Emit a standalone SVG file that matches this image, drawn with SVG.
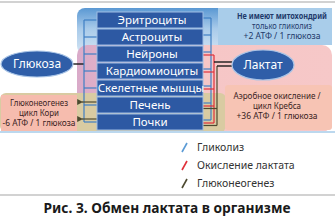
<svg xmlns="http://www.w3.org/2000/svg" width="335" height="220" viewBox="0 0 335 220">
<defs>
<linearGradient id="gBlue" x1="0" y1="0" x2="0" y2="1">
<stop offset="0" stop-color="#5a98d3"/><stop offset="0.45" stop-color="#a9cbea"/><stop offset="1" stop-color="#d3e4f3"/>
</linearGradient>
<linearGradient id="gPink" x1="0" y1="0" x2="1" y2="0">
<stop offset="0" stop-color="#d9aac9"/><stop offset="0.2" stop-color="#e8b8c6"/><stop offset="0.5" stop-color="#f6c6c6"/><stop offset="1" stop-color="#f6c8c8"/>
</linearGradient>
<marker id="arrL" markerWidth="5" markerHeight="5" refX="1" refY="2.5" orient="auto">
<path d="M5,0 L0,2.5 L5,5 z" fill="#4d4a30"/>
</marker>
<style>
.cell{fill:#2d59a3;stroke:#9fbde3;stroke-width:1}
.ctext{font-family:"Noto Sans","DejaVu Sans",sans-serif;font-size:11.5px;fill:#ffffff;text-anchor:middle}
.oval{fill:#2f5ea8;stroke:#a7c3e6;stroke-width:1.2}
.otext{font-family:"Noto Sans","DejaVu Sans",sans-serif;font-size:12px;fill:#ffffff;text-anchor:middle}
.note{font-family:"Noto Sans","DejaVu Sans",sans-serif;font-size:8px;text-anchor:middle;lengthAdjust:spacingAndGlyphs}
.leg{font-family:"Noto Sans","DejaVu Sans",sans-serif;font-size:10.5px;fill:#333333}
.bl{stroke:#3f7fc4;stroke-width:1.2;fill:none}
.rd{stroke:#e0303a;stroke-width:1.2;fill:none}
.dk{stroke:#4d4a30;stroke-width:1.2;fill:none}
.bk{stroke:#1a1a1a;stroke-width:1.4;fill:none}
</style>
</defs>
<rect x="0" y="1" width="335" height="2" fill="#d2d2d2"/>
<g id="panels">
<rect x="77" y="8" width="152" height="46" rx="8" fill="url(#gBlue)"/>
<rect x="77" y="45" width="255" height="87" rx="10" fill="url(#gPink)"/>
<rect x="0" y="93" width="226" height="39" rx="6" fill="#d9cba2"/>
<rect x="0" y="131" width="335" height="2" fill="#bcd8ee"/>
</g>
<g id="note-top">
<rect x="218" y="8" width="114" height="37" fill="#a9cdea"/>
<text class="note" x="282" y="19" fill="#1f3a6a" font-weight="bold" textLength="90" lengthAdjust="spacingAndGlyphs">Не имеют митохондрий</text>
<text class="note" x="282" y="29" fill="#1f3a6a" textLength="60" lengthAdjust="spacingAndGlyphs">только гликолиз</text>
<text class="note" x="282" y="39" fill="#1f3a6a" textLength="77" lengthAdjust="spacingAndGlyphs">+2 АТФ / 1 глюкоза</text>
</g>
<g id="note-krebs">
<rect x="225" y="85" width="107" height="45" rx="3" fill="#f7c4b4"/>
<text class="note" x="277" y="99" fill="#3a1e1e" textLength="87" lengthAdjust="spacingAndGlyphs">Аэробное окисление /</text>
<text class="note" x="277" y="109" fill="#3a1e1e" textLength="48" lengthAdjust="spacingAndGlyphs">цикл Кребса</text>
<text class="note" x="277" y="119" fill="#3a1e1e" textLength="81" lengthAdjust="spacingAndGlyphs">+36 АТФ / 1 глюкоза</text>
</g>
<g id="note-cori">
<rect x="1" y="95" width="76" height="36" fill="#f6bcae"/>
<text class="note" x="39" y="106" fill="#3a1e1e" textLength="58" lengthAdjust="spacingAndGlyphs">Глюконеогенез</text>
<text class="note" x="39" y="116" fill="#3a1e1e" textLength="40" lengthAdjust="spacingAndGlyphs">цикл Кори</text>
<text class="note" x="39" y="126" fill="#3a1e1e" textLength="73" lengthAdjust="spacingAndGlyphs">-6 АТФ / 1 глюкоза</text>
</g>
<g id="connectors">
<line class="bk" x1="73" y1="64" x2="84" y2="64"/>
<line class="bl" x1="84" y1="20" x2="84" y2="122"/>
<line class="bl" x1="84" y1="20" x2="97" y2="20"/>
<line class="bl" x1="84" y1="37" x2="97" y2="37"/>
<line class="bl" x1="84" y1="54" x2="97" y2="54"/>
<line class="bl" x1="84" y1="71" x2="97" y2="71"/>
<line class="bl" x1="84" y1="88" x2="97" y2="88"/>
<line class="bl" x1="84" y1="105" x2="97" y2="105"/>
<line class="bl" x1="84" y1="122" x2="97" y2="122"/>
<line class="dk" x1="97" y1="102" x2="82" y2="102" marker-end="url(#arrL)"/>
<line class="dk" x1="97" y1="119" x2="82" y2="119" marker-end="url(#arrL)"/>
<line class="bl" x1="203" y1="18" x2="211" y2="18"/>
<line class="bl" x1="203" y1="35" x2="211" y2="35"/>
<line class="bl" x1="203" y1="52" x2="211" y2="52"/>
<line class="bl" x1="203" y1="69" x2="211" y2="69"/>
<line class="bl" x1="203" y1="86" x2="211" y2="86"/>
<line class="bl" x1="203" y1="103" x2="211" y2="103"/>
<line class="bl" x1="203" y1="120" x2="211" y2="120"/>
<line class="bl" x1="211" y1="18" x2="211" y2="120"/>
<line class="rd" x1="203" y1="55" x2="214" y2="55"/>
<line class="rd" x1="203" y1="72" x2="214" y2="72"/>
<line class="rd" x1="203" y1="89" x2="214" y2="89"/>
<line class="rd" x1="203" y1="106" x2="214" y2="106"/>
<line class="rd" x1="203" y1="123" x2="214" y2="123"/>
<line class="rd" x1="214" y1="55" x2="214" y2="123"/>
<line class="dk" x1="203" y1="108.5" x2="217" y2="108.5"/>
<line class="dk" x1="203" y1="125.5" x2="217" y2="125.5"/>
<line class="dk" x1="217" y1="66" x2="217" y2="125.5"/>
<line class="bk" x1="214" y1="62" x2="232" y2="62"/>
<line class="bk" x1="217" y1="66" x2="232" y2="66"/>
</g>
<g id="cells">
<g id="n-erythro"><rect class="cell" x="97" y="12" width="106" height="16"/><text class="ctext" x="152" y="24">Эритроциты</text></g>
<g id="n-astro"><rect class="cell" x="97" y="29" width="106" height="16"/><text class="ctext" x="152" y="41">Астроциты</text></g>
<g id="n-neuro"><rect class="cell" x="97" y="46" width="106" height="16"/><text class="ctext" x="152" y="58">Нейроны</text></g>
<g id="n-cardio"><rect class="cell" x="97" y="63" width="106" height="16"/><text class="ctext" x="152" y="75">Кардиомиоциты</text></g>
<g id="n-muscle"><rect class="cell" x="97" y="80" width="106" height="16"/><text class="ctext" x="151" y="92">Скелетные мышцы</text></g>
<g id="n-liver"><rect class="cell" x="97" y="97" width="106" height="16"/><text class="ctext" x="150" y="109">Печень</text></g>
<g id="n-kidney"><rect class="cell" x="97" y="114" width="106" height="16"/><text class="ctext" x="150" y="126">Почки</text></g>
</g>
<g id="n-glucose"><ellipse class="oval" cx="37" cy="64" rx="36" ry="13"/><text class="otext" x="37" y="68">Глюкоза</text></g>
<g id="n-lactate"><ellipse class="oval" cx="263" cy="65" rx="31" ry="15"/><text class="otext" x="263" y="69">Лактат</text></g>
<g id="legend">
<line x1="182" y1="152" x2="187" y2="143" stroke="#5b9bd5" stroke-width="1.6"/>
<text class="leg" x="197" y="151">Гликолиз</text>
<line x1="182" y1="170" x2="187" y2="161" stroke="#e0303a" stroke-width="1.6"/>
<text class="leg" x="197" y="169">Окисление лактата</text>
<line x1="182" y1="188" x2="187" y2="179" stroke="#4d4a30" stroke-width="1.6"/>
<text class="leg" x="197" y="187">Глюконеогенез</text>
</g>
<rect x="0" y="194" width="335" height="2" fill="#d2d2d2"/>
<text x="167" y="213" font-family="'Noto Sans','DejaVu Sans',sans-serif" font-size="14" font-weight="bold" fill="#1a1a1a" text-anchor="middle" textLength="247" lengthAdjust="spacingAndGlyphs">Рис. 3. Обмен лактата в организме</text>
</svg>
